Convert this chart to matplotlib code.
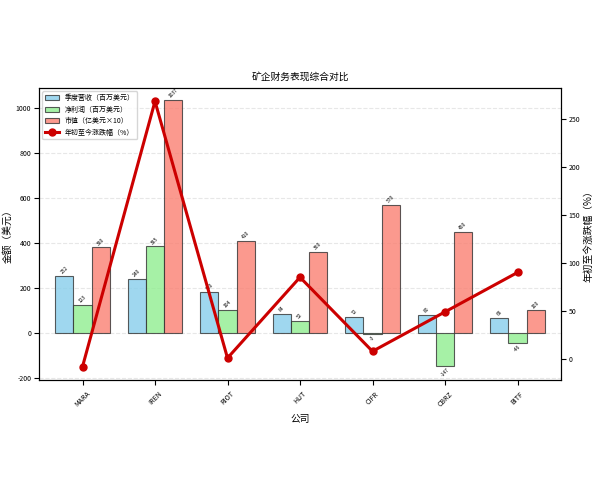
import matplotlib
matplotlib.use('Agg')
import matplotlib.pyplot as plt
import numpy as np
plt.rcParams['font.family'] = ['Noto Sans CJK SC', 'DejaVu Sans']
plt.rcParams['axes.unicode_minus'] = False

companies = ['MARA', 'IREN', 'RIOT', 'HUT', 'CIFR', 'CBRZ', 'BITF']
revenue = [252, 240, 180, 84, 72, 80, 68]
profit = [123, 385, 104, 52, -3, -147, -46]
mcap = [380, 1037, 410, 360, 570, 450, 100]
ytd = [-8, 268, 1, 85, 8, 49, 90]

fig = plt.figure(figsize=(6, 4.8), dpi=100)
ax = fig.add_axes([0.065, 0.208, 0.87, 0.609])
x = np.arange(len(companies))
w = 0.25
specs = [(revenue, '#87CEEB', '季度营收（百万美元）', -w),
         (profit, '#90EE90', '净利润（百万美元）', 0),
         (mcap, '#FA8072', '市值（亿美元×10）', w)]
for vals, c, lab, off in specs:
    bars = ax.bar(x + off, vals, w, color=c, alpha=0.8, edgecolor='#333333', linewidth=0.8, label=lab)
    for b, v in zip(bars, vals):
        ax.text(b.get_x() + b.get_width()/2, v + (5 if v >= 0 else -5), f'{v}',
                ha='center', va='bottom' if v >= 0 else 'top', fontsize=3.5, rotation=45)
ax.set_ylim(-210, 1090)
ax.set_xlim(-0.6, 6.6)
ax.set_xticks(x)
ax.set_xticklabels(companies, rotation=45, fontsize=5)
ax.tick_params(axis='y', labelsize=5, pad=2)
ax.set_ylabel('金额（美元）', fontsize=7, labelpad=2)
ax.set_xlabel('公司', fontsize=7)
ax.set_title('矿企财务表现综合对比', fontsize=7)
ax.grid(axis='y', linestyle='--', alpha=0.3)
ax.set_axisbelow(True)

ax2 = ax.twinx()
ax2.plot(x, ytd, color='#CC0000', linewidth=2.2, marker='o', markersize=5, label='年初至今涨跌幅（%）')
ax2.set_ylim(-22, 282)
ax2.tick_params(axis='y', labelsize=5, pad=2)
ax2.set_ylabel('年初至今涨跌幅（%）', fontsize=7, labelpad=2)

h1, l1 = ax.get_legend_handles_labels()
h2, l2 = ax2.get_legend_handles_labels()
ax.legend(h1 + h2, l1 + l2, loc='upper left', fontsize=5)
fig.savefig('out.png', dpi=100)
